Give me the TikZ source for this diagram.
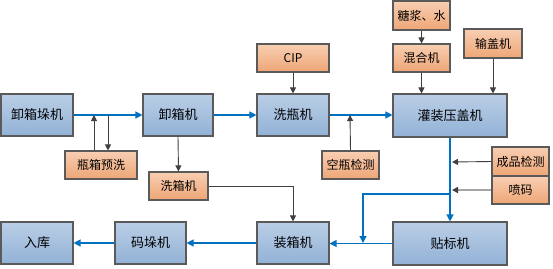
\documentclass[tikz,border=0pt]{standalone}
\usepackage{fontspec}
\newfontfamily\cjk{Noto Sans CJK SC}
\usetikzlibrary{arrows.meta,shadows}
\definecolor{bluetop}{RGB}{186,206,230}
\definecolor{bluebot}{RGB}{146,178,214}
\definecolor{orgtop}{RGB}{248,206,178}
\definecolor{orgbot}{RGB}{238,166,118}
\definecolor{boxline}{RGB}{90,90,90}
\definecolor{flowblue}{RGB}{0,112,192}
\definecolor{flowgray}{RGB}{64,64,64}
\tikzset{
  bluebox/.style={draw=boxline, line width=1.1pt, top color=bluetop, bottom color=bluebot,
    inner sep=0pt, minimum height=42pt, font=\cjk\fontsize{13}{13}\selectfont,
    drop shadow={shadow xshift=1pt, shadow yshift=-1pt, opacity=0.25}},
  orgbox/.style={draw=boxline, line width=1.1pt, top color=orgtop, bottom color=orgbot,
    inner sep=0pt, minimum height=28pt, font=\cjk\fontsize{12}{12}\selectfont,
    drop shadow={shadow xshift=1pt, shadow yshift=-1pt, opacity=0.25}},
  bflow/.style={draw=flowblue, line width=1.2pt, -{Triangle[length=7pt,width=7pt]}},
  gflow/.style={draw=flowgray, line width=0.9pt, -{Triangle[length=6pt,width=6pt]}},
  lgflow/.style={draw=gray!70, line width=1.6pt, -{Triangle[length=6pt,width=6pt,color=flowgray]}},
}
\begin{document}
\begin{tikzpicture}[x=1pt,y=-1pt]
\useasboundingbox (0,0) rectangle (553,268);
% blue boxes
\node[bluebox, minimum width=72pt] (A) at (37,115) {卸箱垛机};
\node[bluebox, minimum width=70pt] (B) at (178,115) {卸箱机};
\node[bluebox, minimum width=72pt] (C) at (293,115) {洗瓶机};
\node[bluebox, minimum width=114pt, minimum height=43pt] (D) at (450,115.5) {灌装压盖机};
\node[bluebox, minimum width=114pt, minimum height=43pt] (E) at (450,243.5) {贴标机};
\node[bluebox, minimum width=72pt] (F) at (293,243) {装箱机};
\node[bluebox, minimum width=71pt] (G) at (150.5,243) {码垛机};
\node[bluebox, minimum width=72pt] (H) at (37,243) {入库};
% orange boxes
\node[orgbox, minimum width=72pt] (P) at (101,165) {瓶箱预洗};
\node[orgbox, minimum width=59pt] (Q) at (178.5,186) {洗箱机};
\node[orgbox, minimum width=72pt] (CIP) at (293,58) {CIP};
\node[orgbox, minimum width=57pt, minimum height=29pt] (S) at (421.5,15.5) {糖浆、水};
\node[orgbox, minimum width=57pt] (M) at (421.5,58) {混合机};
\node[orgbox, minimum width=58pt, minimum height=29pt] (K) at (493,43.5) {输盖机};
\node[orgbox, minimum width=57pt] (V) at (350.5,165) {空瓶检测};
\node[orgbox, minimum width=57pt, minimum height=29pt] (T) at (520.5,161.5) {成品检测};
\node[orgbox, minimum width=57pt] (R) at (520.5,190) {喷码};
% coordinates
\coordinate (pu) at (94,115);
\coordinate (pd) at (108,115);
\coordinate (vq) at (350,115);
\coordinate (j1) at (450,194);
\coordinate (j2) at (363,194);
\coordinate (j3) at (363,243);
\coordinate (tq) at (452,162);
\coordinate (rq) at (452,190);
\coordinate (qk) at (293,186);
% blue flow
\draw[bflow] (A.east) -- (B.west);
\draw[bflow] (B.east) -- (C.west);
\draw[bflow] (C.east) -- (C.east -| D.west);
\draw[bflow] (D.south) -- (E.north);
\draw[bflow] (j1) -- (j2) -- (j3);
\draw[bflow] (E.west) -- (E.west -| F.east);
\draw[bflow] (F.west) -- (G.east);
\draw[bflow] (G.west) -- (H.east);
% gray connectors
\draw[gflow] (P.north -| pu) -- (pu);
\draw[gflow] (pd) -- (P.north -| pd);
\draw[gflow] (B.south) -- (Q.north);
\draw[gflow] (Q.east) -- (qk) -- (F.north);
\draw[gflow] (CIP.south) -- (C.north);
\draw[gflow] (V.north) -- (vq);
\draw[gflow] (S.south) -- (M.north);
\draw[gflow] (M.south) -- (M.south |- D.north);
\draw[gflow] (K.south) -- (K.south |- D.north);
\draw[gflow] (T.west) -- (tq);
\draw[lgflow] (R.west) -- (rq);
\end{tikzpicture}
\end{document}
